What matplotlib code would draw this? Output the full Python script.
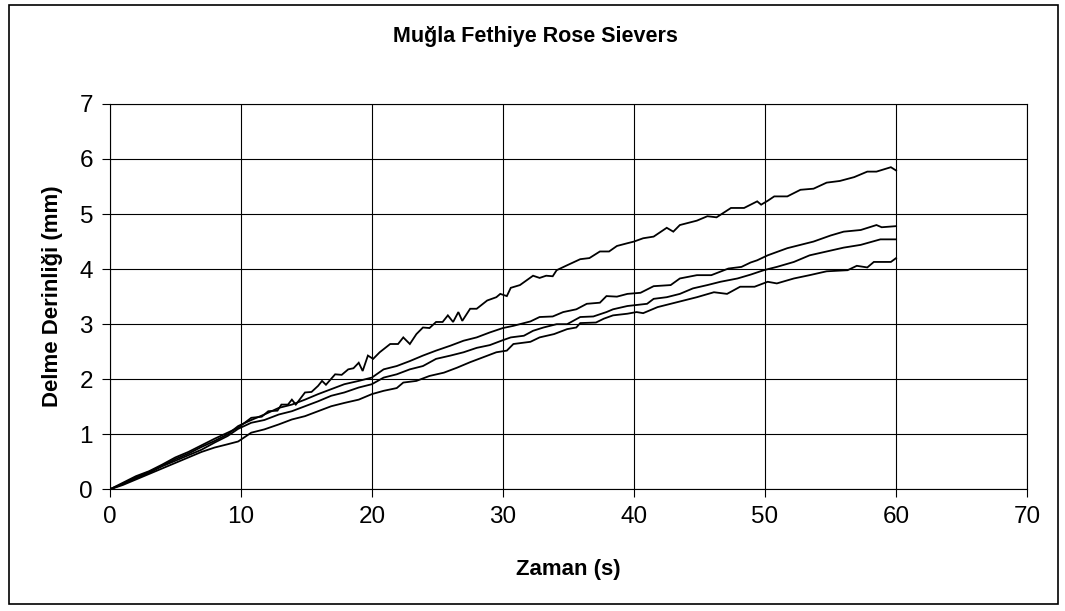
import matplotlib
matplotlib.use("Agg")
import matplotlib.pyplot as plt
from matplotlib.patches import Rectangle

plt.rcParams['font.family'] = ['Liberation Sans', 'DejaVu Sans']

title = "Muğla Fethiye Rose Sievers"
xlabel = "Zaman (s)"
ylabel = "Delme Derinliği (mm)"
xticks = [0, 10, 20, 30, 40, 50, 60, 70]
yticks = [0, 1, 2, 3, 4, 5, 6, 7]

t_a = [0, 1, 2, 3, 4, 5, 6, 7, 8, 9, 9.8, 10.8, 11.6, 12.1, 12.8, 13.1, 13.6, 13.9, 14.2,
       14.9, 15.4, 15.9, 16.2, 16.5, 17.2, 17.7, 18.2, 18.6, 19.0, 19.3, 19.7, 20.1, 20.6,
       21.4, 22.0, 22.4, 22.9, 23.4, 23.9, 24.4, 24.9, 25.4, 25.8, 26.2, 26.6, 26.9, 27.5,
       28.0, 28.8, 29.5, 29.8, 30.3, 30.6, 31.3, 32.3, 32.8, 33.3, 33.8, 34.1, 34.9, 35.9,
       36.6, 37.4, 38.1, 38.7, 39.5, 40.0, 40.7, 41.5, 42.5, 43.0, 43.5, 44.8, 45.6, 46.3,
       47.4, 48.4, 49.4, 49.7, 50.2, 50.7, 51.7, 52.7, 53.7, 54.7, 55.7, 56.8, 57.8, 58.5,
       59.6, 60.0]
d_a = [0, 0.12, 0.24, 0.33, 0.45, 0.58, 0.68, 0.80, 0.92, 1.03, 1.12, 1.30, 1.32, 1.42, 1.43,
       1.54, 1.54, 1.63, 1.54, 1.76, 1.77, 1.88, 1.97, 1.90, 2.09, 2.08, 2.18, 2.20, 2.30,
       2.15, 2.43, 2.37, 2.49, 2.64, 2.64, 2.76, 2.64, 2.82, 2.94, 2.93, 3.04, 3.04, 3.16,
       3.04, 3.22, 3.06, 3.28, 3.28, 3.43, 3.49, 3.55, 3.51, 3.66, 3.71, 3.88, 3.84, 3.88,
       3.87, 3.98, 4.07, 4.18, 4.20, 4.32, 4.32, 4.42, 4.47, 4.50, 4.56, 4.59, 4.75, 4.68,
       4.80, 4.88, 4.96, 4.94, 5.11, 5.11, 5.23, 5.17, 5.24, 5.32, 5.32, 5.44, 5.46, 5.57,
       5.60, 5.67, 5.77, 5.77, 5.85, 5.79]

t_b = [0, 1, 2, 3, 4, 5, 6, 7, 8, 9, 9.8, 10.8, 11.8, 12.9, 13.9, 14.9, 15.9, 16.9, 17.9,
       19.0, 20.0, 20.9, 21.9, 22.9, 23.9, 24.9, 26.0, 27.0, 28.0, 29.0, 30.0, 30.8, 32.1,
       32.8, 33.8, 34.6, 35.6, 36.4, 37.4, 37.9, 38.7, 39.5, 40.5, 41.5, 42.8, 43.5, 44.8,
       45.9, 47.2, 48.2, 48.9, 49.4, 50.2, 51.7, 52.7, 53.7, 55.0, 56.0, 57.3, 58.5, 58.9,
       60.0]
d_b = [0, 0.10, 0.22, 0.32, 0.43, 0.55, 0.65, 0.77, 0.88, 1.00, 1.15, 1.26, 1.36, 1.48, 1.54,
       1.63, 1.73, 1.82, 1.91, 1.97, 2.03, 2.18, 2.24, 2.33, 2.43, 2.52, 2.61, 2.70, 2.76,
       2.85, 2.93, 2.97, 3.05, 3.13, 3.14, 3.22, 3.27, 3.37, 3.39, 3.51, 3.50, 3.55, 3.57,
       3.69, 3.71, 3.83, 3.89, 3.89, 4.01, 4.04, 4.12, 4.16, 4.25, 4.38, 4.44, 4.50, 4.61,
       4.68, 4.71, 4.80, 4.76, 4.78]

t_c = [0, 1, 2, 3, 4, 5, 6, 7, 8, 9, 9.8, 10.8, 11.8, 12.9, 13.9, 14.9, 15.9, 16.9, 17.9,
       19.0, 20.0, 20.9, 21.9, 22.9, 23.9, 24.9, 26.0, 27.0, 28.0, 29.0, 30.0, 30.6, 31.6,
       32.3, 33.1, 34.1, 34.9, 35.9, 36.9, 37.9, 38.4, 39.5, 41.0, 41.5, 42.5, 43.5, 44.5,
       45.6, 46.6, 47.9, 48.9, 49.9, 50.9, 52.2, 53.4, 54.7, 56.0, 57.3, 58.8, 60.0]
d_c = [0, 0.10, 0.20, 0.30, 0.42, 0.52, 0.62, 0.72, 0.85, 0.97, 1.10, 1.21, 1.26, 1.36, 1.42,
       1.51, 1.60, 1.70, 1.76, 1.85, 1.91, 2.03, 2.09, 2.18, 2.24, 2.37, 2.43, 2.49, 2.57,
       2.62, 2.71, 2.76, 2.79, 2.88, 2.94, 3.00, 3.00, 3.13, 3.14, 3.22, 3.27, 3.33, 3.37,
       3.46, 3.49, 3.55, 3.65, 3.71, 3.77, 3.83, 3.90, 3.98, 4.04, 4.13, 4.25, 4.32, 4.39,
       4.44, 4.54, 4.54]

t_d = [0, 1, 2, 3, 4, 5, 6, 7, 8, 9, 9.8, 10.8, 11.8, 12.9, 13.9, 14.9, 15.9, 16.9, 17.9,
       19.0, 20.0, 20.9, 21.9, 22.4, 23.4, 24.4, 25.5, 26.5, 27.5, 28.5, 29.5, 30.3, 30.8,
       32.1, 32.8, 33.9, 34.9, 35.6, 35.9, 37.1, 37.7, 38.4, 39.5, 40.2, 40.7, 41.8, 42.8,
       43.8, 44.8, 46.1, 47.1, 48.1, 49.2, 50.2, 50.9, 52.2, 53.4, 54.7, 56.3, 57.0, 57.8,
       58.3, 59.6, 60.0]
d_d = [0, 0.08, 0.18, 0.28, 0.38, 0.48, 0.58, 0.68, 0.76, 0.82, 0.87, 1.03, 1.09, 1.18, 1.27,
       1.33, 1.42, 1.51, 1.57, 1.63, 1.73, 1.79, 1.84, 1.94, 1.97, 2.06, 2.12, 2.21, 2.31,
       2.40, 2.49, 2.52, 2.64, 2.68, 2.76, 2.82, 2.91, 2.94, 3.02, 3.03, 3.10, 3.16, 3.19,
       3.22, 3.20, 3.31, 3.37, 3.43, 3.49, 3.58, 3.55, 3.68, 3.68, 3.77, 3.74, 3.83, 3.89,
       3.96, 3.98, 4.06, 4.03, 4.13, 4.13, 4.20]

series = [(t_a, d_a), (t_b, d_b), (t_c, d_c), (t_d, d_d)]

fig = plt.figure(figsize=(10.65, 6.11), dpi=100)
ax = fig.add_axes([0.103, 0.199, 0.8615, 0.631])

for t, d in series:
    ax.plot(t, d, color='black', lw=1.3, solid_joinstyle='miter')

ax.set_xlim(0, 70)
ax.set_ylim(0, 7)
ax.set_xticks(xticks)
ax.set_yticks(yticks)
ax.grid(True, color='black', lw=0.8)
ax.set_axisbelow(True)
for s in ax.spines.values():
    s.set_color('black')
    s.set_linewidth(0.8)
ax.tick_params(axis='both', direction='out', length=6, width=0.8, colors='black',
               labelsize=17.5, pad=6)

ax.set_xlabel(xlabel, fontsize=16, fontweight='bold', labelpad=22)
ax.set_ylabel(ylabel, fontsize=16, fontweight='bold', labelpad=12)
fig.text(0.503, 0.94, title, fontsize=15.5, fontweight='bold', ha='center', va='center')

fig.patches.append(Rectangle((0.008, 0.012), 0.985, 0.979, transform=fig.transFigure,
                             fill=False, edgecolor='black', lw=1.2))

fig.savefig("out.png", dpi=100, facecolor='white')
